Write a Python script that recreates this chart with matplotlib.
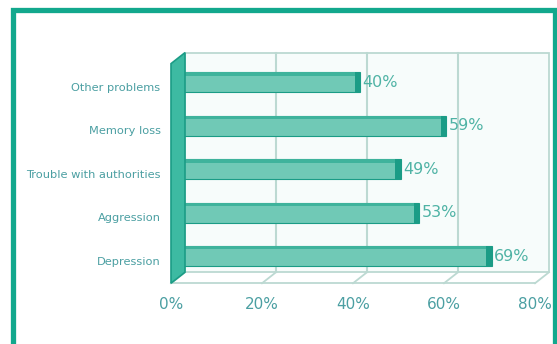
import matplotlib.pyplot as plt
from matplotlib.transforms import ScaledTranslation
from matplotlib.patches import Rectangle, Polygon

# Данные
categories = ['Depression', 'Aggression', 'Trouble with authorities', 'Memory loss', 'Other problems']
values = [69, 53, 49, 59, 40]
ticks = [0, 20, 40, 60, 80]
tick_labels = ['0%', '20%', '40%', '60%', '80%']

teal = '#12a88d'
dark = '#1b9c86'
face = '#70c9b6'
grid_c = '#bcd9d2'
text_c = '#4b9fa2'

fig = plt.figure(figsize=(5.57, 3.44), dpi=100)
ax = fig.add_axes([178 / 557, 0.1926, 364 / 557, 0.831 - 0.1926])
ax.set_xlim(0, 80)
ymin, ymax = -0.5, 4.55
ax.set_ylim(ymin, ymax)
ax.axis('off')

# смещения для псевдо-3D
back = ax.transData + ScaledTranslation(7 / 100, 5.5 / 100, fig.dpi_scale_trans)
front = ax.transData + ScaledTranslation(-7 / 100, -5.5 / 100, fig.dpi_scale_trans)
inv = ax.transData.inverted()

# задняя стенка
ax.add_patch(Rectangle((0, ymin), 80, ymax - ymin, transform=back,
                       facecolor='#f7fcfb', edgecolor=grid_c, lw=1.3, clip_on=False, zorder=0))
for t in ticks[1:-1]:
    ax.plot([t, t], [ymin, ymax], transform=back, color=grid_c, lw=1.5, clip_on=False, zorder=1)

# пол
ax.plot([0, 80], [ymin, ymin], transform=front, color=grid_c, lw=1.3, clip_on=False, zorder=1)
for t in ticks:
    a = inv.transform(front.transform((t, ymin)))
    b = inv.transform(back.transform((t, ymin)))
    ax.plot([a[0], b[0]], [a[1], b[1]], color=grid_c, lw=1.3, clip_on=False, zorder=1)

# левая стенка
pts = [front.transform((0, ymin)), back.transform((0, ymin)),
       back.transform((0, ymax)), front.transform((0, ymax))]
pts = [inv.transform(p) for p in pts]
ax.add_patch(Polygon(pts, closed=True, facecolor='#3dbaa2', edgecolor=dark, lw=1.2,
                     clip_on=False, zorder=5))

# столбцы
ypos = list(range(len(categories)))
ax.barh(ypos, values, height=0.46, color=face, edgecolor=dark, lw=0.8, zorder=3)
ax.barh([y + 0.19 for y in ypos], values, height=0.08, color='#3fb39c', lw=0, zorder=4)
ax.barh(ypos, [1.2] * len(values), left=[v - 1.2 for v in values], height=0.46,
        color=dark, lw=0, zorder=4)

for y, v in zip(ypos, values):
    ax.text(v + 0.5, y, f'{v}%', color='#4fb3a5', fontsize=11.5, va='center', ha='left', zorder=6)

# подписи категорий
for y, c in zip(ypos, categories):
    ax.text(-2.3, y, c, transform=front, color=text_c, fontsize=8.2, va='center', ha='right')

# подписи оси x
for t, lab in zip(ticks, tick_labels):
    ax.text(t, ymin - 0.32, lab, transform=front, color=text_c, fontsize=11,
            va='top', ha='center')

# рамка
fig.patches.append(Rectangle((13.5 / 557, -0.05), (554.5 - 13.5) / 557, 1.05 - 10.5 / 344,
                             transform=fig.transFigure, fill=False, edgecolor=teal, lw=3.8))

fig.savefig('out.png', dpi=100)
